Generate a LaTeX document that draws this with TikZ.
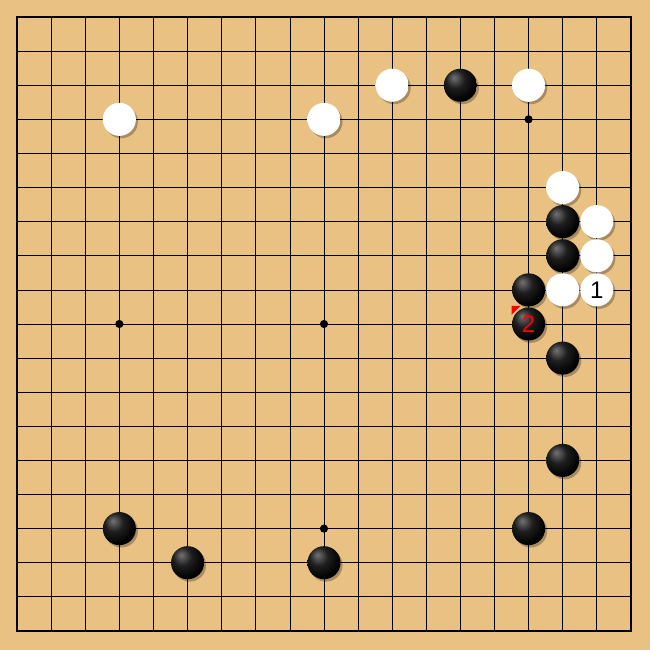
\documentclass[tikz,border=0pt]{standalone}
\usepackage{fontspec}
\setsansfont{Liberation Sans}
\definecolor{board}{HTML}{E9C283}
\pgfdeclareradialshading{blackball}{\pgfpoint{-10bp}{12bp}}{color(0bp)=(black!55); color(14bp)=(black!88); color(30bp)=(black); color(70bp)=(black)}
\pgfdeclareradialshading{whiteball}{\pgfpoint{-9bp}{11bp}}{color(0bp)=(white); color(26bp)=(white); color(46bp)=(black!9); color(66bp)=(black!36)}
\begin{document}
\begin{tikzpicture}[x=1cm,y=-1cm,line width=0.6pt,font=\sffamily\fontsize{20}{20}\selectfont,
	stone/.style={circle,minimum size=0.97cm,inner sep=0pt,
		preaction={fill=black,opacity=0.28,transform canvas={shift={(0.06,0.07)}}}},
	bstone/.style={stone,shading=blackball},
	wstone/.style={stone,shading=whiteball}]
	\fill[board] (-0.5,-0.5) rectangle (18.56,18.56);
	\foreach \i in {0,...,18} {\draw (\i,0)--(\i,18); \draw (0,\i)--(18,\i);}
	\draw[line width=1.3pt] (0,0) rectangle (18,18);
	\foreach \c/\r in {3/9,9/9,15/3,9/15} \fill (\c,\r) circle(0.12);
	% black stones
	\foreach \c/\r [count=\n] in {13/2,16/6,16/7,15/8,16/10,16/13,3/15,15/15,5/16,9/16}
		\node[bstone] (b\n) at (\c,\r) {};
	% white stones
	\foreach \c/\r [count=\n] in {11/2,15/2,3/3,9/3,16/5,17/6,17/7,16/8}
		\node[wstone] (w\n) at (\c,\r) {};
	% numbered moves
	\node[wstone] (m1) at (17,8) {1};
	\coordinate (p2) at (15,9);
	\fill[red] ([shift={(-0.5,-0.53)}]p2)--([shift={(-0.24,-0.53)}]p2)--([shift={(-0.5,-0.27)}]p2)--cycle;
	\node[bstone,text=red] (m2) at (p2) {2};
\end{tikzpicture}
\end{document}
